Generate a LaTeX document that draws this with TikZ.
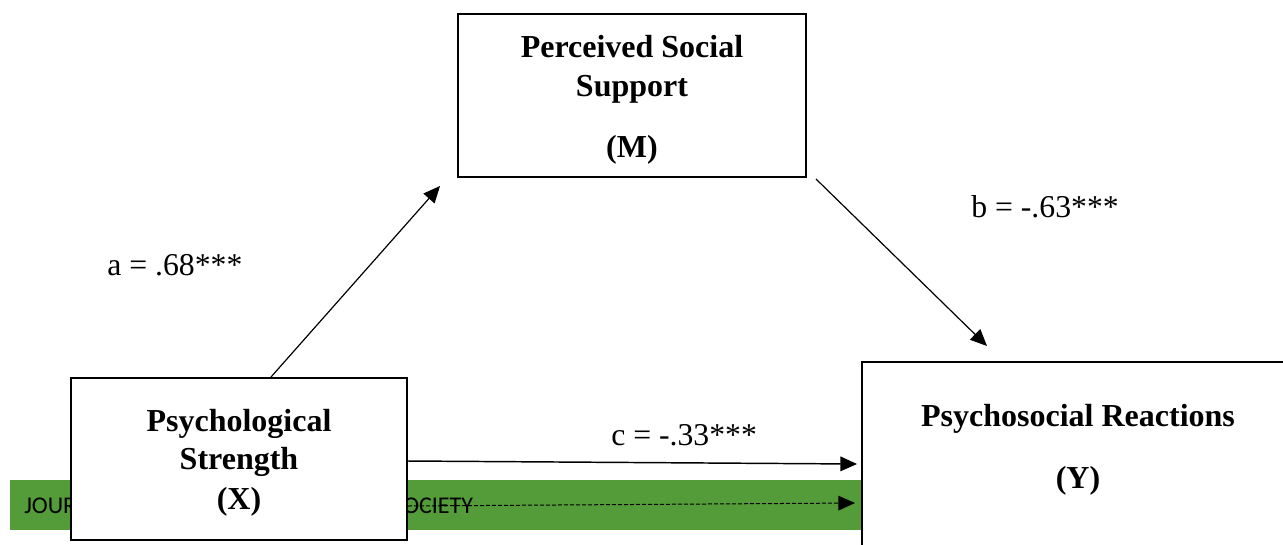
\documentclass[tikz,border=0pt]{standalone}
\usepackage{fontspec}
\setmainfont{Liberation Serif}
\newfontfamily\barfont{Carlito}
\usetikzlibrary{arrows.meta}
\definecolor{bargreen}{RGB}{83,156,57}
\begin{document}
\begin{tikzpicture}[x=0.75pt,y=-0.75pt,
  boxnode/.style={draw=black, fill=white, line width=1.5pt, inner sep=0pt},
  boxtext/.style={font=\fontsize{24}{28}\selectfont\bfseries, anchor=base, inner sep=0pt},
  coef/.style={font=\fontsize{23.8}{27}\selectfont, anchor=base west, inner sep=0pt},
  bartext/.style={font=\barfont\fontsize{18}{21}\selectfont, text=black, inner sep=0pt},
  arr/.style={-{Triangle[length=12.5pt,width=11pt]}, line width=0.9pt},
  dasharr/.style={-{Triangle[length=12.5pt,width=11pt]}, line width=0.75pt, dash pattern=on 3pt off 1.5pt}
]
\useasboundingbox (0,0) rectangle (1283,544);
\clip (0,0) rectangle (1283,544);
\fill[white] (0,0) rectangle (1283,544);

% green bar
\node[fill=bargreen, inner sep=0pt, minimum width=639pt, minimum height=37.5pt] (bar) at (436,505) {};
\node[bartext, anchor=base west] (barL) at (24,513) {JOUR};
\node[bartext, anchor=base west] (barR) at (403,513) {OCIETY};

% boxes
\node[boxnode, minimum width=261pt, minimum height=122.25pt] (M) at (632,95.5) {};
\node[boxnode, minimum width=252pt, minimum height=121.5pt] (X) at (239,459) {};
\node[boxnode, minimum width=336pt, minimum height=156pt] (Y) at (1086,466) {};

% box texts
\node[boxtext] (M1) at (632,57) {Perceived Social};
\node[boxtext] (M2) at (632,96) {Support};
\node[boxtext] (M3) at (632,157) {(M)};
\node[boxtext] (X1) at (239,431) {Psychological};
\node[boxtext] (X2) at (239,469) {Strength};
\node[boxtext] (X3) at (239,509) {(X)};
\node[boxtext] (Y1) at (1078,426) {Psychosocial Reactions};
\node[boxtext] (Y2) at (1078,488) {(Y)};

% connector end points
\path (X.north west) ++(201,0) coordinate (aS);
\path (M.south west) ++(-17,8) coordinate (aE);
\path (M.south east) ++(9,1) coordinate (bS);
\path (Y.north west) ++(126,-15) coordinate (bE);
\path (X.east) ++(0,2) coordinate (cS);
\path (Y.west) ++(-4,-2) coordinate (cE);
\path (X.east) ++(0,47) coordinate (dS);
\path (Y.west) ++(-6,37) coordinate (dE);

% connectors
\draw[arr] (aS) -- (aE);
\draw[arr] (bS) -- (bE);
\draw[arr, line width=1.1pt] (cS) -- (cE);
\draw[dasharr] (dS) -- (dE);

% coefficients
\node[coef] (la) at (107,275) {a = .68***};
\node[coef] (lb) at (971,217) {b = -.63***};
\node[coef] (lc) at (611,445) {c = -.33***};
\end{tikzpicture}
\end{document}
